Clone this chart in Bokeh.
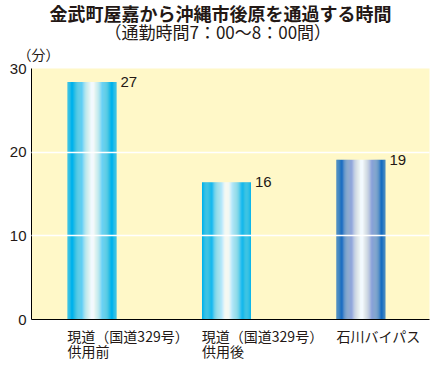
import numpy as np
from bokeh.plotting import figure
from bokeh.models import Title, FixedTicker, ColumnDataSource, Range1d, LinearAxis
from bokeh.embed import file_html
from bokeh.resources import INLINE
from bokeh.core.properties import value

# ---- data ----
cat_line1 = ["現道（国道329号）", "現道（国道329号）", "石川バイパス"]
cat_line2 = ["供用前", "供用後"]
bar_heights = [28.4, 16.4, 19.1]
value_labels = ["27", "16", "19"]
y_ticks = [0, 10, 20, 30]
grid_values = [10, 20]
title_text = "金武町屋嘉から沖縄市後原を通過する時間"
subtitle_text = "（通勤時間7：00～8：00間）"
unit_text = "（分）"

# ---- style ----
JP = "Noto Sans CJK JP"
NUM = "Liberation Sans"
TXT = "#231815"
BG = "#FFF8C8"
BAR_W = 0.364
N = 44
X0, X1 = -0.45, 2.51
W, H = 437, 364
ML, MR, MT, MB = 31, 8, 68, 45
FRAME_W = W - ML - MR
PX = (X1 - X0) / FRAME_W          # data units per pixel
half_w1 = [60.5, 60.5, 42]        # half widths (px) of first label line
half_w2 = [21, 21]

cyan = (0, 178, 236)
white = (242, 249, 255)
blue = (22, 108, 192)
lav = (142, 164, 218)
stops = [
    [(0, cyan), (0.16, cyan), (0.48, white), (0.54, white), (0.85, cyan), (1, cyan)],
    [(0, cyan), (0.16, cyan), (0.48, white), (0.54, white), (0.85, cyan), (1, cyan)],
    [(0, blue), (0.09, blue), (0.3, lav), (0.49, white), (0.54, white), (0.72, lav), (0.92, blue), (1, blue)],
]

def grad(st, t):
    for (t0, c0), (t1, c1) in zip(st[:-1], st[1:]):
        if t0 <= t <= t1:
            f = 0 if t1 == t0 else (t - t0) / (t1 - t0)
            c = [round(a + (b - a) * f) for a, b in zip(c0, c1)]
            return "#%02x%02x%02x" % tuple(c)
    return "#%02x%02x%02x" % st[-1][1]

xs, tops, cols = [], [], []
for i, h in enumerate(bar_heights):
    for k in range(N):
        t = (k + 0.5) / N
        xs.append(i - BAR_W / 2 + (k + 0.5) * BAR_W / N)
        tops.append(h)
        cols.append(grad(stops[i], t))

p = figure(width=W, height=H, output_backend="svg", toolbar_location=None,
           x_range=Range1d(X0, X1), y_range=Range1d(0, 30), title=None,
           min_border_left=ML, min_border_right=MR, min_border_top=MT, min_border_bottom=MB)
p.background_fill_color = BG
p.border_fill_color = "white"
p.outline_line_color = None

p.vbar(x=xs, top=tops, bottom=0, width=BAR_W / N * 1.02, fill_color=cols, line_color=None)

lab_src = ColumnDataSource(dict(x=[i + BAR_W / 2 for i in range(len(bar_heights))],
                                y=bar_heights, t=value_labels))
p.text(x="x", y="y", text="t", source=lab_src, x_offset=4, text_baseline="middle",
       text_align="left", text_font=value(NUM), text_font_size="15px", text_color=TXT)

# y axis
p.yaxis.ticker = FixedTicker(ticks=y_ticks)
p.yaxis.major_tick_line_color = None
p.yaxis.minor_tick_line_color = None
p.yaxis.major_tick_out = 0
p.yaxis.major_tick_in = 0
p.yaxis.major_label_standoff = 5
p.yaxis.major_label_text_font = NUM
p.yaxis.major_label_text_font_size = "15px"
p.yaxis.major_label_text_color = TXT
p.yaxis.axis_line_color = "black"

def style_x(ax, ticks, labels, standoff, line):
    ax.ticker = FixedTicker(ticks=ticks)
    ax.major_label_overrides = {t: s for t, s in zip(ticks, labels)}
    ax.major_tick_line_color = None
    ax.minor_tick_line_color = None
    ax.major_tick_out = 0
    ax.major_tick_in = 0
    ax.major_label_standoff = standoff
    ax.major_label_text_font = JP
    ax.major_label_text_font_size = "14px"
    ax.major_label_text_color = TXT
    ax.axis_line_color = "black" if line else None

ticks1 = [round(i - BAR_W / 2 + hw * PX, 4) for i, hw in enumerate(half_w1)]
ticks2 = [round(i - BAR_W / 2 + hw * PX, 4) for i, hw in enumerate(half_w2)]
style_x(p.xaxis[0], ticks1, cat_line1, 6, True)
ax2 = LinearAxis()
style_x(ax2, ticks2, cat_line2, -8, False)
p.add_layout(ax2, "below")

p.xgrid.visible = False
p.ygrid.ticker = FixedTicker(ticks=grid_values)
p.ygrid.grid_line_color = "white"
p.ygrid.grid_line_width = 1.5
p.ygrid.level = "overlay"

p.add_layout(Title(text=unit_text, align="left", offset=-14, text_font=JP, text_line_height=0.75,
                   text_font_size="14px", text_font_style="normal", text_color=TXT, standoff=10), "above")
p.add_layout(Title(text=subtitle_text, align="left", offset=73, text_font=JP, text_line_height=0.75,
                   text_font_size="17px", text_font_style="normal", text_color=TXT, standoff=-15), "above")
p.add_layout(Title(text=title_text, align="left", offset=18, text_font=JP, text_line_height=0.75,
                   vertical_align="middle",
                   text_font_size="18px", text_font_style="bold", text_color=TXT, standoff=-4), "above")

open("out.html", "w").write(file_html(p, INLINE))
